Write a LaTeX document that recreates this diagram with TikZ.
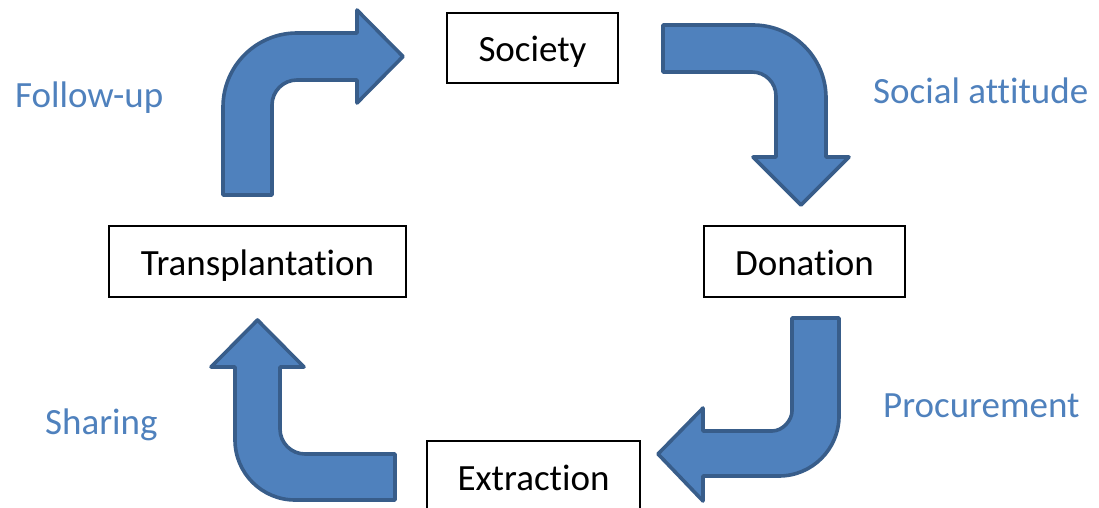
\documentclass[tikz,border=0pt]{standalone}
\usepackage{fontspec}
\setmainfont{Carlito}[Ligatures={NoCommon}]
\definecolor{arrfill}{HTML}{4F81BD}
\definecolor{arrline}{HTML}{385D8A}
\definecolor{lblcol}{HTML}{4F81BD}
\begin{document}
\begin{tikzpicture}[x=1pt,y=-1pt,
  boxnode/.style={draw=black,line width=2.6pt,inner sep=0pt,text height=27pt,text depth=0pt,
    font=\fontsize{37}{44}\selectfont},
  lbl/.style={anchor=base west,inner sep=0pt,text=lblcol,font=\fontsize{37}{44}\selectfont},
  blockarrow/.style={fill=arrfill,draw=arrline,line width=3.6pt,line join=round}]
\useasboundingbox (0,0) rectangle (1099,508);
% boxes
\node[boxnode,minimum width=171pt,minimum height=70pt] (soc) at (532.5,48) {Society};
\node[boxnode,minimum width=297pt,minimum height=71pt] (tra) at (257.5,261.5) {Transplantation};
\node[boxnode,minimum width=201pt,minimum height=71pt] (don) at (804.5,261.5) {Donation};
\node[boxnode,minimum width=213pt,minimum height=71pt] (ext) at (533.5,476.5) {Extraction};
% labels
\node[lbl] (lf) at (15,107) {Follow-up};
\node[lbl] (ls) at (873,103) {Social attitude};
\node[lbl] (lp) at (883,417) {Procurement};
\node[lbl] (lsh) at (45,434) {Sharing};
% arrow: transplantation -> society
\draw[blockarrow] (223,195) -- (223,107)
  .. controls (223,66.1) and (256.1,33) .. (297,33)
  -- (357,33) -- (357,10) -- (403,56.5) -- (357,103) -- (357,80) -- (297,80)
  .. controls (283.2,80) and (272,91.2) .. (272,105)
  -- (272,195) -- cycle;
% arrow: society -> donation
\draw[blockarrow] (663,25) -- (753,25)
  .. controls (793.3,25) and (826,57.7) .. (826,98)
  -- (826,157) -- (849,157) -- (801,205) -- (753,157) -- (776,157) -- (776,96)
  .. controls (776,82.7) and (765.3,72) .. (752,72)
  -- (663,72) -- cycle;
% arrow: donation -> extraction
\draw[blockarrow] (792,318) -- (839,318) -- (839,416)
  .. controls (839,449.1) and (812.1,476) .. (779,476)
  -- (703,476) -- (703,501) -- (658,454) -- (703,408) -- (703,431) -- (772,431)
  .. controls (783,431) and (792,420) .. (792,411)
  -- cycle;
% arrow: extraction -> transplantation
\draw[blockarrow] (257.5,320) -- (304,367) -- (280,367) -- (280,429)
  .. controls (280,442.8) and (291.2,454) .. (305,454)
  -- (395,454) -- (395,500) -- (295,500)
  .. controls (261.9,500) and (235,473.1) .. (235,440)
  -- (235,367) -- (211,367) -- cycle;
\end{tikzpicture}
\end{document}
